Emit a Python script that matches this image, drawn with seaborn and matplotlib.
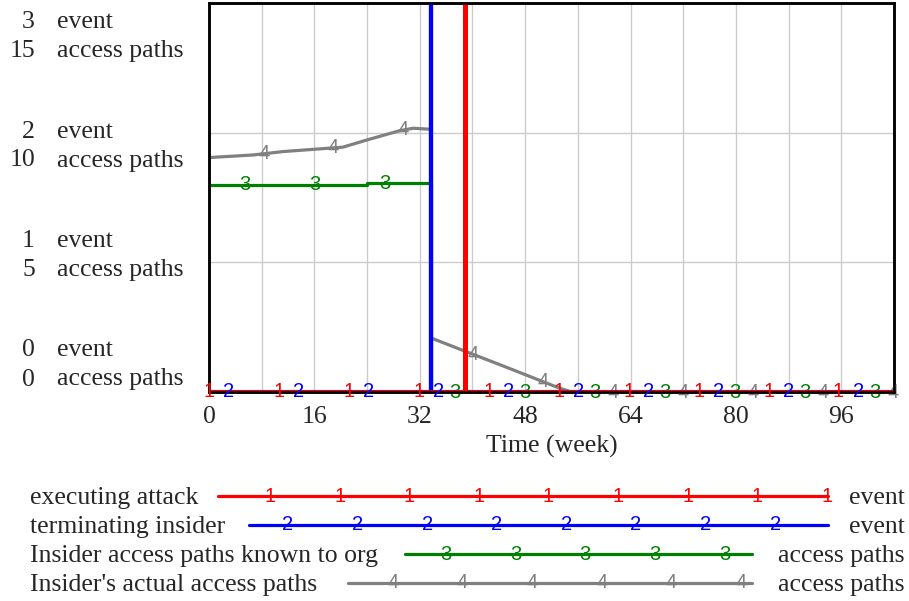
import numpy as np
import pandas as pd
import seaborn as sns
import matplotlib.pyplot as plt

# access paths (left scale, 0-15)
actual_weeks = [0, 6.7, 11.2, 16, 20.3, 24, 29, 31, 33.75, 33.75, 39, 45, 50, 53, 55, 104]
actual_paths = [9.04, 9.14, 9.27, 9.36, 9.44, 9.72, 10.08, 10.17, 10.13, 2.08, 1.56, 0.97, 0.47, 0.17, 0, 0]

known_weeks = [0, 24, 24, 33.75, 33.75, 104]
known_paths = [8.0, 8.0, 8.05, 8.05, 0, 0]

# events (0-3 scale, pulses run off the top)
terminate_weeks = [0, 33.75, 33.75, 33.75, 104]
terminate_event = [0, 0, 4, 0, 0]
attack_weeks = [0, 38.9, 38.9, 38.9, 104]
attack_event = [0, 0, 4, 0, 0]

names = ["executing attack", "terminating insider",
         "Insider access paths known to org", "Insider's actual access paths"]
units = ["event", "event", "access paths", "access paths"]
colors = ["#ff0000", "#0000ff", "#008000", "#808080"]
xticks = [0, 16, 32, 48, 64, 80, 96]
event_ticks = [3, 2, 1, 0]
path_ticks = [15, 10, 5, 0]

sns.set_style("white")
plt.rcParams['font.family'] = ['Liberation Serif', 'DejaVu Serif']
FS = 18.5
MS = 14.5

W, H = 909, 601
fig = plt.figure(figsize=(W / 100, H / 100), dpi=100)
ax = fig.add_axes([209 / W, (H - 392) / H, 685 / W, 389 / H])
ax2 = ax.twinx()

sns.lineplot(x=actual_weeks, y=actual_paths, ax=ax, color=colors[3], lw=2.3,
             sort=False, estimator=None)
sns.lineplot(x=known_weeks, y=known_paths, ax=ax, color=colors[2], lw=2.3,
             sort=False, estimator=None)
sns.lineplot(x=terminate_weeks, y=terminate_event, ax=ax2, color=colors[1], lw=3,
             sort=False, estimator=None)
sns.lineplot(x=attack_weeks, y=attack_event, ax=ax2, color=colors[0], lw=3.4,
             sort=False, estimator=None)

ax.set_xlim(0, 104)
ax.set_ylim(0, 15)
ax2.set_ylim(0, 3)

# number markers along each line
marks = [(ax2, attack_weeks, attack_event, 0.0, "1"),
         (ax2, terminate_weeks, terminate_event, 3.0, "2"),
         (ax, known_weeks, known_paths, 5.5, "3"),
         (ax, actual_weeks, actual_paths, 8.3, "4")]
for i, (a, xs, ys, off, lab) in enumerate(marks):
    mx = np.arange(off, 104, 10.62)
    my = np.interp(mx, xs, ys)
    for x0, y0 in zip(mx, my):
        a.text(x0, y0, lab, color=colors[i], ha="center", va="center",
               fontsize=MS, family="Liberation Sans", zorder=5)

ax.set_xticks(xticks)
ax.set_xticks(np.arange(8, 104, 16), minor=True)
ax.set_yticks([0, 5, 10, 15])
ax.grid(which="both", color="#cccccc", lw=1)
ax.tick_params(length=0, labelsize=FS, pad=10)
ax.tick_params(axis="y", labelleft=False)
ax2.set_yticks([])
ax.set_xlabel("Time (week)", fontsize=FS, labelpad=5)
for a in (ax, ax2):
    for s in a.spines.values():
        s.set_color("black")
        s.set_linewidth(1.8)


def px(x, y):
    return x / W, 1 - y / H


# stacked y labels on the left
for k in range(4):
    y0 = 22 + 109.5 * k
    fig.text(*px(35, y0), str(event_ticks[k]), ha="right", va="center", fontsize=FS)
    fig.text(*px(57, y0), "event", ha="left", va="center", fontsize=FS)
    fig.text(*px(35, y0 + 29), str(path_ticks[k]), ha="right", va="center", fontsize=FS)
    fig.text(*px(57, y0 + 29), "access paths", ha="left", va="center", fontsize=FS)

# legend block below the chart
lg = fig.add_axes([0, 0, 1, 1])
lg.set_xlim(0, W)
lg.set_ylim(H, 0)
lg.axis("off")
rows = [(496, 218, 828, 270, 9), (525, 249, 828, 288, 8),
        (554, 405, 752, 446, 5), (583, 348, 752, 393, 6)]
for i, (yy, x1, x2, m0, n) in enumerate(rows):
    lg.text(30, yy + 2, names[i], ha="left", va="center", fontsize=FS)
    lg.text(905, yy + 2, units[i], ha="right", va="center", fontsize=FS)
    lg.plot([x1, x2], [yy, yy], color=colors[i], lw=2.3)
    for j in range(n):
        lg.text(m0 + 69.6 * j, yy, str(i + 1), color=colors[i], ha="center",
                va="center", fontsize=MS, family="Liberation Sans")

fig.savefig("out.png", dpi=100)
